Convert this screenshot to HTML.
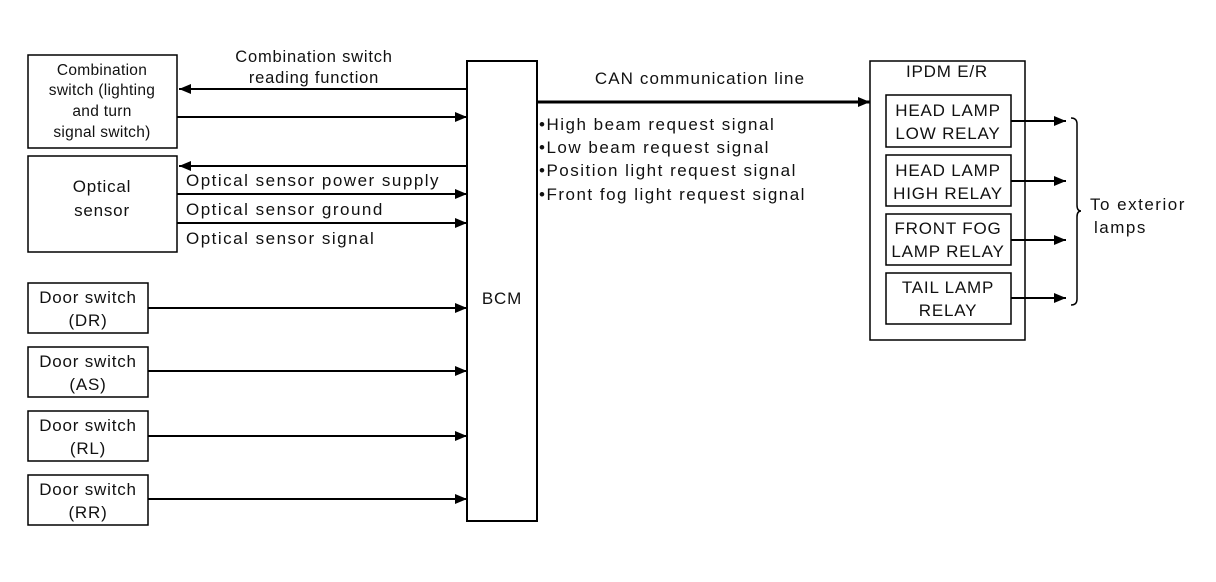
<!DOCTYPE html>
<html><head><meta charset="utf-8"><style>
html,body{margin:0;padding:0;background:#fff;}
svg{display:block;}
text{font-family:"Liberation Sans",sans-serif;fill:#111;}
</style></head><body>
<svg width="1216" height="582" viewBox="0 0 1216 582" xmlns="http://www.w3.org/2000/svg">
<defs>
<marker id="a" markerWidth="12" markerHeight="10" refX="12" refY="5" orient="auto" markerUnits="userSpaceOnUse">
<path d="M0,0 L12,5 L0,10 Z" fill="#000"/></marker>
</defs>
<g fill="none" stroke="#000" stroke-width="1.5">
<rect x="28" y="55" width="149" height="93"/>
<rect x="28" y="156" width="149" height="96"/>
<rect x="28" y="283" width="120" height="50"/>
<rect x="28" y="347" width="120" height="50"/>
<rect x="28" y="411" width="120" height="50"/>
<rect x="28" y="475" width="120" height="50"/>
<rect x="467" y="61" width="70" height="460" stroke-width="2"/>
<rect x="870" y="61" width="155" height="279"/>
<rect x="886" y="95" width="125" height="52"/>
<rect x="886" y="155" width="125" height="51"/>
<rect x="886" y="214" width="125" height="51"/>
<rect x="886" y="273" width="125" height="51"/>
</g>
<g stroke="#000" stroke-width="2" fill="none">
<line x1="467" y1="89" x2="179" y2="89" marker-end="url(#a)"/>
<line x1="177" y1="117" x2="467" y2="117" marker-end="url(#a)"/>
<line x1="467" y1="166" x2="179" y2="166" marker-end="url(#a)"/>
<line x1="177" y1="194" x2="467" y2="194" marker-end="url(#a)"/>
<line x1="177" y1="223" x2="467" y2="223" marker-end="url(#a)"/>
<line x1="148" y1="308" x2="467" y2="308" marker-end="url(#a)"/>
<line x1="148" y1="371" x2="467" y2="371" marker-end="url(#a)"/>
<line x1="148" y1="436" x2="467" y2="436" marker-end="url(#a)"/>
<line x1="148" y1="499" x2="467" y2="499" marker-end="url(#a)"/>
<line x1="537" y1="102" x2="870" y2="102" stroke-width="3" marker-end="url(#a)"/>
<line x1="1011" y1="121" x2="1066" y2="121" marker-end="url(#a)"/>
<line x1="1011" y1="181" x2="1066" y2="181" marker-end="url(#a)"/>
<line x1="1011" y1="240" x2="1066" y2="240" marker-end="url(#a)"/>
<line x1="1011" y1="298" x2="1066" y2="298" marker-end="url(#a)"/>
<path d="M1071,118 Q1077,118 1077,124 L1077,205 Q1077,211 1081,211 Q1077,211 1077,217 L1077,299 Q1077,305 1071,305" stroke-width="1.5"/>
</g>
<g font-size="15.5" text-anchor="middle" letter-spacing="0.3">
<text x="102" y="75">Combination</text>
<text x="102" y="95">switch (lighting</text>
<text x="102" y="116">and turn</text>
<text x="102" y="137">signal switch)</text>
</g>
<g font-size="17" text-anchor="middle" letter-spacing="0.8">
<text x="102" y="192">Optical</text>
<text x="102" y="216">sensor</text>
<text x="88" y="303">Door switch</text><text x="88" y="326">(DR)</text>
<text x="88" y="367">Door switch</text><text x="88" y="390">(AS)</text>
<text x="88" y="431">Door switch</text><text x="88" y="454">(RL)</text>
<text x="88" y="495">Door switch</text><text x="88" y="518">(RR)</text>
<text x="314" y="62" font-size="16.5">Combination switch</text>
<text x="314" y="83" font-size="16.5">reading function</text>
<text x="502" y="304">BCM</text>
<text x="700" y="84" letter-spacing="1.1">CAN communication line</text>
<text x="947" y="77">IPDM E/R</text>
<text x="948" y="116">HEAD LAMP</text><text x="948" y="139">LOW RELAY</text>
<text x="948" y="176">HEAD LAMP</text><text x="948" y="199">HIGH RELAY</text>
<text x="948" y="234">FRONT FOG</text><text x="948" y="257">LAMP RELAY</text>
<text x="948" y="293">TAIL LAMP</text><text x="948" y="316">RELAY</text>
</g>
<g font-size="17" letter-spacing="1.5">
<text x="186" y="186">Optical sensor power supply</text>
<text x="186" y="215">Optical sensor ground</text>
<text x="186" y="244">Optical sensor signal</text>
<text x="539" y="130">•High beam request signal</text>
<text x="539" y="153">•Low beam request signal</text>
<text x="539" y="176">•Position light request signal</text>
<text x="539" y="200">•Front fog light request signal</text>
<text x="1090" y="210">To exterior</text>
<text x="1094" y="233">lamps</text>
</g>
</svg>
</body></html>
